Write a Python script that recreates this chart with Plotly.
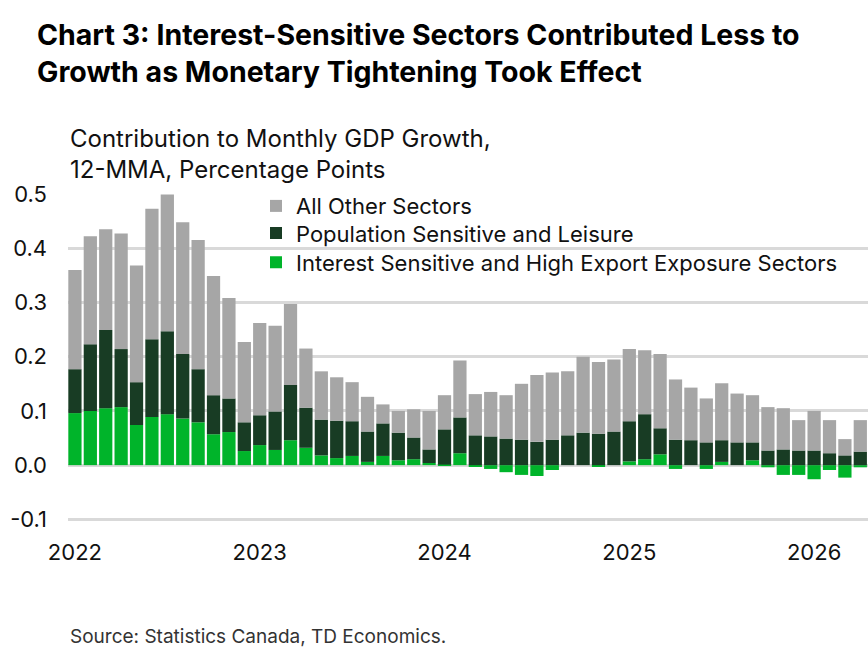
import plotly.graph_objects as go

months = [f"{y}-{m:02d}" for y in range(2022, 2027) for m in range(1, 13)][:52]

# Interest Sensitive and High Export Exposure Sectors
interest = [0.096, 0.100, 0.105, 0.107, 0.074, 0.089, 0.094, 0.086, 0.079, 0.057, 0.061, 0.026,
            0.037, 0.028, 0.046, 0.032, 0.018, 0.013, 0.017, 0.006, 0.017, 0.009, 0.011, 0.004,
            0.001, 0.022, -0.003, -0.007, -0.013, -0.018, -0.020, -0.009, 0.000, 0.000, -0.002, 0.000,
            0.007, 0.011, 0.020, -0.007, 0.000, -0.007, 0.006, 0.000, 0.009, -0.004, -0.018, -0.018,
            -0.026, -0.009, -0.023, -0.004]
# Cumulative top of the dark-green segment
pop_top = [0.177, 0.223, 0.249, 0.214, 0.153, 0.232, 0.247, 0.205, 0.177, 0.129, 0.123, 0.079,
           0.092, 0.099, 0.148, 0.106, 0.084, 0.082, 0.081, 0.062, 0.077, 0.060, 0.051, 0.029,
           0.066, 0.088, 0.055, 0.053, 0.049, 0.047, 0.043, 0.047, 0.055, 0.060, 0.058, 0.062,
           0.081, 0.094, 0.068, 0.047, 0.046, 0.042, 0.046, 0.042, 0.042, 0.027, 0.029, 0.027,
           0.027, 0.022, 0.018, 0.025]
# Total (top of grey segment)
total_top = [0.360, 0.422, 0.435, 0.427, 0.368, 0.473, 0.499, 0.448, 0.415, 0.349, 0.308, 0.227,
             0.262, 0.257, 0.297, 0.215, 0.173, 0.162, 0.153, 0.126, 0.112, 0.100, 0.103, 0.100,
             0.129, 0.193, 0.131, 0.135, 0.129, 0.150, 0.166, 0.171, 0.173, 0.200, 0.190, 0.195,
             0.214, 0.212, 0.205, 0.158, 0.143, 0.123, 0.151, 0.132, 0.129, 0.107, 0.105, 0.083,
             0.100, 0.083, 0.048, 0.083]

population = [round(p - max(i, 0), 4) for p, i in zip(pop_top, interest)]
other = [round(t - p, 4) for t, p in zip(total_top, pop_top)]

year_ticks = ["2022-01", "2023-01", "2024-01", "2025-01", "2026-01"]
year_labels = ["2022", "2023", "2024", "2025", "2026"]
y_ticks = [-0.1, 0.0, 0.1, 0.2, 0.3, 0.4, 0.5]
y_labels = ["-0.1", "0.0", "0.1", "0.2", "0.3", "0.4", "0.5"]

FONT = "Inter"
fig = go.Figure()
fig.add_trace(go.Bar(x=months, y=interest, name="Interest Sensitive and High Export Exposure Sectors",
                     marker=dict(color="#00B42A", line=dict(width=0)), legend="legend3"))
fig.add_trace(go.Bar(x=months, y=population, name="Population Sensitive and Leisure",
                     marker=dict(color="#183C24", line=dict(width=0)), legend="legend2"))
fig.add_trace(go.Bar(x=months, y=other, name="All Other Sectors",
                     marker=dict(color="#A6A6A6", line=dict(width=0)), legend="legend"))

leg_common = dict(x=0.235, xanchor="left", yanchor="middle", bgcolor="rgba(0,0,0,0)",
                  font=dict(size=22, family=FONT, color="#111111"), borderwidth=0)

fig.update_layout(
    width=868, height=648,
    barmode="relative", bargap=0.14,
    plot_bgcolor="white", paper_bgcolor="white",
    margin=dict(l=68, r=0, t=194, b=127),
    font=dict(family=FONT, size=22, color="#111111"),
    showlegend=True,
    legend=dict(y=0.963, **leg_common),
    legend2=dict(y=0.880, **leg_common),
    legend3=dict(y=0.791, **leg_common),
    xaxis=dict(type="category", range=[-0.45, 51.5], tickmode="array", tickvals=year_ticks,
               ticktext=year_labels, showgrid=False, ticks="", showline=False, zeroline=False,
               tickfont=dict(size=22, family=FONT), ticklabelstandoff=16),
    yaxis=dict(range=[-0.103, 0.5], tickmode="array", tickvals=y_ticks, ticktext=y_labels,
               showgrid=True, gridcolor="#D9D9D9",
               gridwidth=2.5, zeroline=True, zerolinecolor="#D9D9D9", zerolinewidth=2.5,
               ticks="", showline=False, tickfont=dict(size=22, family=FONT), ticklabelstandoff=20),
    annotations=[
        dict(text="<b>Chart 3: Interest-Sensitive Sectors Contributed Less to<br>Growth as Monetary Tightening Took Effect</b>",
             xref="paper", yref="paper", x=-0.041, y=1.0, xanchor="left", yanchor="bottom",
             yshift=103, showarrow=False, align="left",
             font=dict(size=28.5, family=FONT, color="#000000")),
        dict(text="Contribution to Monthly GDP Growth,<br>12-MMA, Percentage Points",
             xref="paper", yref="paper", x=0.0, y=1.0, xanchor="left", yanchor="bottom",
             yshift=8, showarrow=False, align="left",
             font=dict(size=24, family=FONT, color="#111111")),
        dict(text="Source: Statistics Canada, TD Economics.",
             xref="paper", yref="paper", x=0.0, y=0.0, xanchor="left", yanchor="top",
             yshift=-102, showarrow=False, align="left",
             font=dict(size=19, family=FONT, color="#333333")),
    ],
)

fig.write_html("out.html")
